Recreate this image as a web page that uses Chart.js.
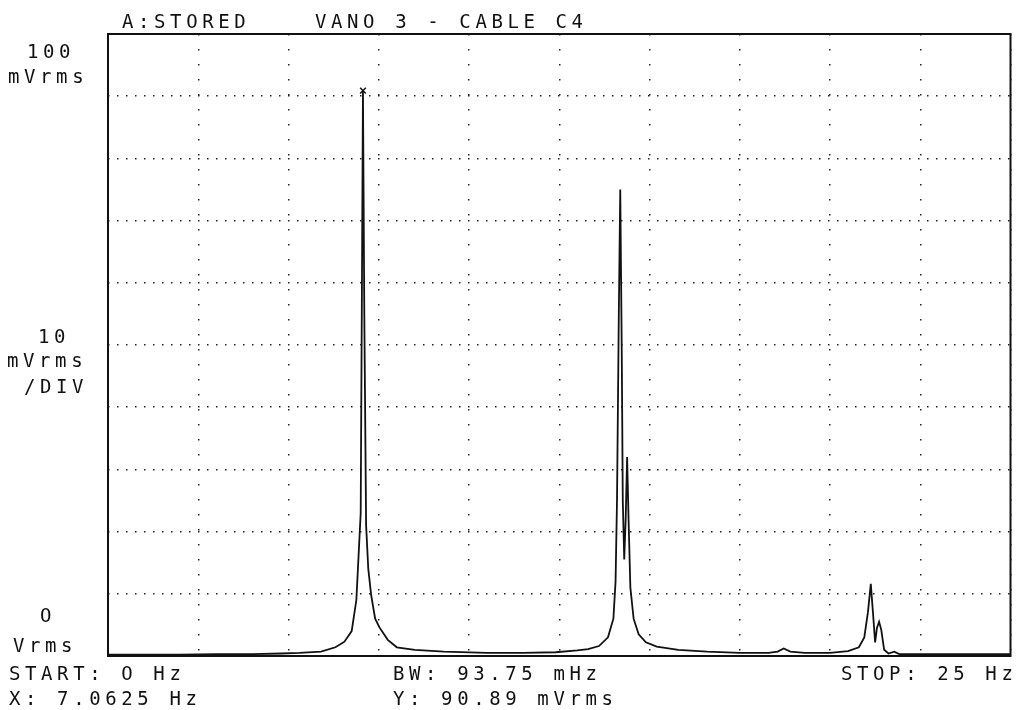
<!DOCTYPE html>
<html>
<head>
<meta charset="utf-8">
<script src="https://cdn.jsdelivr.net/npm/chart.js@4/dist/chart.umd.min.js"></script>
<style>
  html, body { margin: 0; padding: 0; background: #fff; }
  #wrap { position: relative; width: 1016px; height: 710px; overflow: hidden; }
  #myChart { position: absolute; left: 0; top: 0; }
  .lbl {
    position: absolute;
    font-family: "DejaVu Sans Mono", monospace;
    font-size: 19px;
    line-height: 19px;
    letter-spacing: 4.6px;
    color: #111;
    white-space: pre;
  }
</style>
</head>
<body>
<div id="wrap">
  <canvas id="myChart" width="1016" height="710"></canvas>
</div>
<script>
// spectrum trace (Hz / mVrms)
const freqHz = [
  0, 1, 2, 3, 4, 4.8, 5.3, 5.9, 6.3, 6.55, 6.75, 6.88, 6.94, 7.0, 7.03,
  7.0625, 7.1, 7.15, 7.21, 7.29, 7.4, 7.52, 7.75, 8.0, 8.5, 9.3, 10.5, 11.5,
  12.4, 13.0, 13.3, 13.6, 13.85, 14.0, 14.06, 14.1, 14.15, 14.19, 14.23, 14.26,
  14.3, 14.34, 14.38, 14.42, 14.47, 14.56, 14.7, 14.9, 15.2, 15.8, 16.6, 17.5,
  18.3, 18.55, 18.72, 18.9, 19.3, 20.0, 20.5, 20.8, 20.95, 21.05, 21.13, 21.19,
  21.25, 21.3, 21.36, 21.42, 21.5, 21.62, 21.78, 21.92, 23, 24, 25
];
const ampMv = [
  0.2, 0.2, 0.2, 0.3, 0.3, 0.4, 0.5, 0.7, 1.4, 2.3, 4.0, 9, 16, 23, 55,
  90.89, 55, 21, 14, 9.8, 6, 4.6, 2.6, 1.4, 1.0, 0.7, 0.5, 0.5,
  0.6, 0.9, 1.1, 1.6, 3.0, 6, 12, 25, 55, 75, 50, 25,
  15.5, 22, 32, 22, 11, 6, 3.5, 2.2, 1.5, 1.0, 0.7, 0.5,
  0.5, 0.7, 1.2, 0.7, 0.5, 0.5, 0.8, 1.4, 3, 7, 11.6, 7,
  2.2, 4.5, 5.5, 4.2, 1.0, 0.4, 0.7, 0.3, 0.3, 0.3, 0.3
];
const markerHz = [7.0625];
const markerMv = [90.89];

// text
const labels = [
  ["A:STORED", 122, 28],
  ["VANO 3 - CABLE C4", 315, 28],
  ["100", 27, 58],
  ["mVrms", 8, 83],
  ["10", 38, 343],
  ["mVrms", 7, 367],
  ["/DIV", 24, 393],
  ["O", 40, 622],
  ["Vrms", 13, 652],
  ["START: O Hz", 9, 680],
  ["BW: 93.75 mHz", 393, 680],
  ["STOP: 25 Hz", 841, 680],
  ["X: 7.0625 Hz", 9, 705],
  ["Y: 90.89 mVrms", 393, 705]
];

const wrap = document.getElementById('wrap');
labels.forEach(([t, x, base]) => {
  const d = document.createElement('div');
  d.className = 'lbl';
  d.textContent = t;
  d.style.left = x + 'px';
  d.style.top = (base - 16) + 'px';
  wrap.appendChild(d);
});

const frame = {
  id: 'frame',
  afterDraw(chart) {
    const {ctx, chartArea: a} = chart;
    ctx.save();
    ctx.strokeStyle = '#111';
    ctx.lineWidth = 2;
    ctx.strokeRect(a.left, a.top, a.right - a.left, a.bottom - a.top);
    ctx.restore();
  }
};

const ctx = document.getElementById('myChart');
new Chart(ctx, {
  type: 'line',
  data: {
    datasets: [{
      data: freqHz.map((f, i) => ({x: f, y: ampMv[i]})),
      borderColor: '#111',
      borderWidth: 1.8,
      pointRadius: 0,
      tension: 0,
      fill: false
    }, {
      data: markerHz.map((f, i) => ({x: f, y: markerMv[i]})),
      showLine: false,
      pointStyle: 'crossRot',
      pointRadius: 4,
      borderColor: '#111',
      borderWidth: 1.5
    }]
  },
  options: {
    responsive: false,
    animation: false,
    layout: { padding: { left: 108, top: 34, right: 4, bottom: 54 } },
    plugins: { legend: { display: false }, tooltip: { enabled: false } },
    scales: {
      x: {
        type: 'linear', min: 0, max: 25,
        ticks: { display: false, stepSize: 2.5 },
        grid: { color: '#222', lineWidth: 1.5, drawTicks: false },
        border: { display: false, dash: [1.5, 13.5] }
      },
      y: {
        min: 0, max: 100,
        ticks: { display: false, stepSize: 10 },
        grid: { color: '#222', lineWidth: 1.5, drawTicks: false },
        border: { display: false, dash: [1.5, 7.5] }
      }
    }
  },
  plugins: [frame]
});
</script>
</body>
</html>
